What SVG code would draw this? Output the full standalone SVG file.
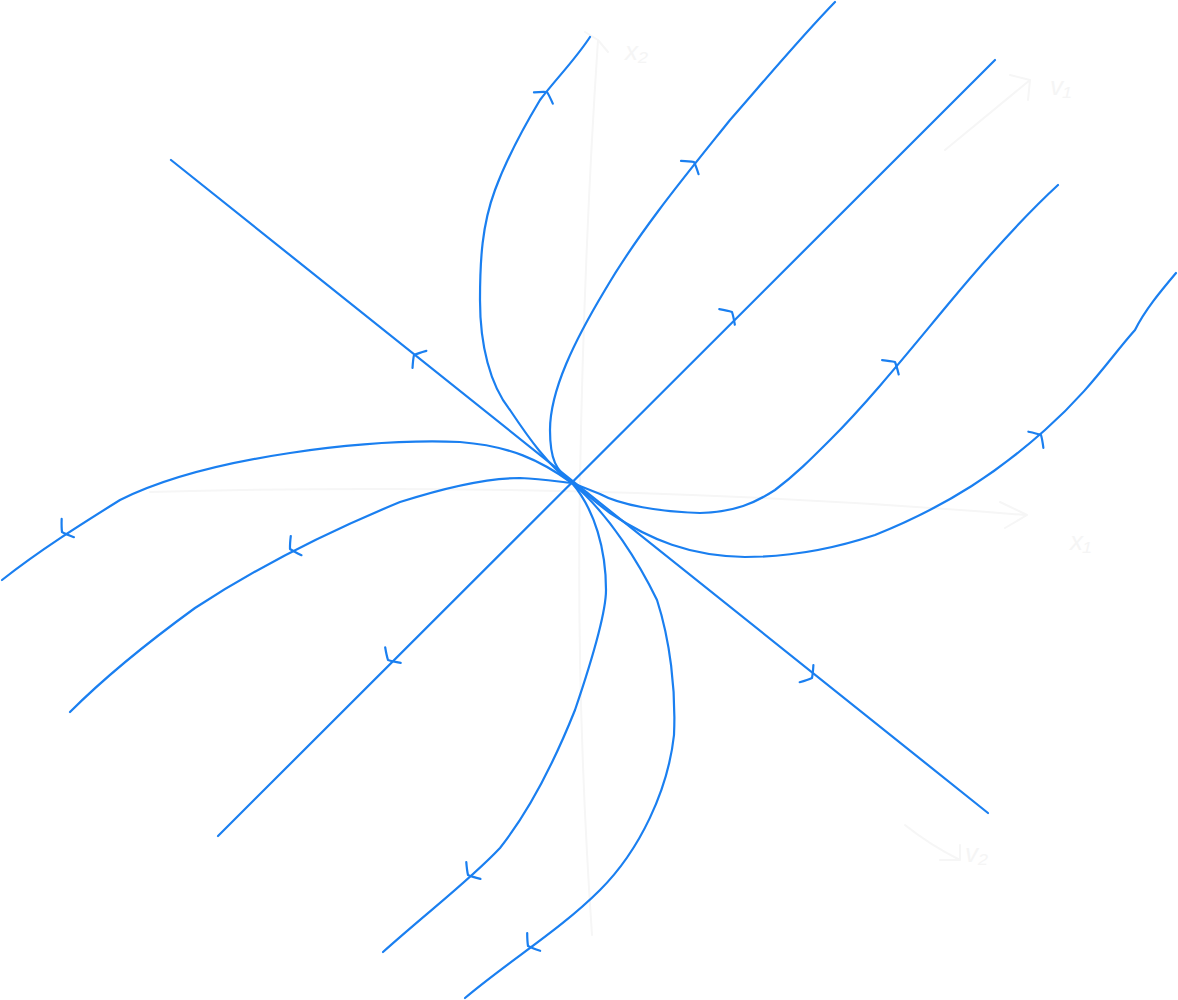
<svg xmlns="http://www.w3.org/2000/svg" width="1178" height="1000" viewBox="0 0 1178 1000">
<style>
.c{fill:none;stroke:#1a7ff0;stroke-width:2.2;stroke-linecap:round;stroke-linejoin:round}
.e{fill:none;stroke:#1a7ff0;stroke-width:2.2;stroke-linecap:round}
.f{fill:none;stroke:#f6f6f6;stroke-width:2;stroke-linecap:round;stroke-linejoin:round}
.t{fill:#f5f5f5;font-family:"Liberation Sans",Arial,sans-serif;font-size:26px;font-style:italic}
</style>
<defs>
<path id="ah" d="M -7 -11 Q -2 -4 0 0 Q -2 4 -7 11" class="c"/>
</defs>
<rect width="1178" height="1000" fill="#ffffff"/>
<g id="faint">
<path class="f" d="M 592 935 Q 576 700 580 480 Q 584 250 598 40"/>
<path class="f" d="M 585 32 L 598 40 L 608 52"/>
<path class="f" d="M 150 492 Q 600 480 1025 515"/>
<path class="f" d="M 1000 502 L 1027 515 L 1005 528"/>
<path class="f" d="M 945 150 L 1030 80 M 1010 75 L 1030 80 L 1028 100"/>
<path class="f" d="M 905 825 Q 930 845 960 860 M 940 860 L 960 860 L 960 845"/>
<text class="t" x="625" y="60">x₂</text>
<text class="t" x="1050" y="95">v₁</text>
<text class="t" x="1070" y="550">x₁</text>
<text class="t" x="965" y="862">v₂</text>
</g>
<g id="connectors">
<path id="eig1" class="e" d="M 171 160 L 988 813"/>
<path id="eig2" class="e" d="M 995 60 L 218 836"/>
<path id="traj1" class="c" d="M 590 37 C 575 60 555 80 540 100 C 525 125 508 155 495 190 C 482 225 480 260 480 300 C 480 345 490 385 510 410 C 530 440 548 465 572 483"/>
<path id="traj2" class="c" d="M 835 2 C 800 38 765 80 730 120 C 690 170 640 230 605 290 C 575 340 550 390 550 430 C 550 460 556 470 572 483"/>
<path id="traj3" class="c" d="M 1058 185 C 1020 220 985 260 950 302 C 910 350 870 400 830 440 C 810 460 795 475 775 490 C 755 503 735 512 700 513 C 660 512 620 505 600 494 C 590 490 580 486 572 483"/>
<path id="traj4" class="c" d="M 1176 273 C 1160 292 1145 310 1135 330 C 1110 358 1090 390 1045 430 C 1000 470 950 505 875 535 C 830 550 790 557 745 557 C 690 556 650 540 610 513 C 595 502 582 490 572 483"/>
<path id="traj5" class="c" d="M 2 580 C 40 550 80 525 120 500 C 170 475 230 462 290 453 C 350 444 410 440 460 442 C 510 446 540 460 572 483"/>
<path id="traj6" class="c" d="M 70 712 C 100 682 140 648 195 608 C 250 572 320 535 400 502 C 450 486 490 478 520 478 C 545 479 560 482 572 483"/>
<path id="traj7" class="c" d="M 383 952 C 430 910 470 880 500 848 C 530 810 555 760 575 710 C 592 660 606 610 606 590 C 606 550 595 510 572 483"/>
<path id="traj8" class="c" d="M 465 998 C 510 960 560 930 600 890 C 640 850 668 790 674 735 C 676 690 670 640 657 600 C 640 565 610 515 572 483"/>
</g>
<g id="arrows">
<use href="#ah" transform="translate(547,92) rotate(-59)"/>
<use href="#ah" transform="translate(694,162) rotate(-53)"/>
<use href="#ah" transform="translate(732,312) rotate(-45)"/>
<use href="#ah" transform="translate(895,362) rotate(-49)"/>
<use href="#ah" transform="translate(1041,435) rotate(-43)"/>
<use href="#ah" transform="translate(414,355) rotate(-141)"/>
<use href="#ah" transform="translate(62,532) rotate(146)"/>
<use href="#ah" transform="translate(290,549) rotate(151)"/>
<use href="#ah" transform="translate(388,660) rotate(135)"/>
<use href="#ah" transform="translate(468,875) rotate(140)"/>
<use href="#ah" transform="translate(528,946) rotate(144)"/>
<use href="#ah" transform="translate(812,678) rotate(38.6)"/>
</g>
</svg>
